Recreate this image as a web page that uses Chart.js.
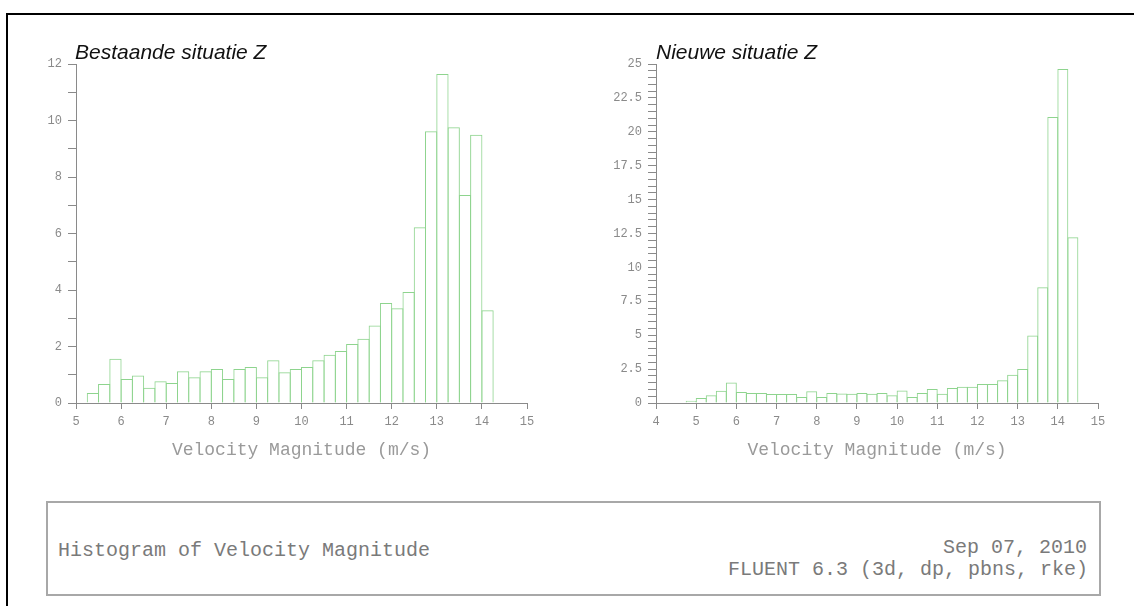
<!DOCTYPE html>
<html>
<head>
<meta charset="utf-8">
<script src="https://cdn.jsdelivr.net/npm/chart.js@4/dist/chart.umd.min.js"></script>
<style>
  html, body { margin:0; padding:0; background:#fff; }
  body { width:1134px; height:606px; position:relative; overflow:hidden; }
  #frame { position:absolute; left:6px; top:13px; width:1200px; height:700px; border-top:2px solid #000; border-left:2px solid #000; }
  .ctitle { position:absolute; font-family:"Liberation Sans", Arial, sans-serif; font-style:italic; font-size:21px; line-height:21px; color:#111; white-space:nowrap; }
  .cwrap { position:absolute; top:0; width:567px; height:480px; }
  #infobox { position:absolute; left:46px; top:501px; width:1055px; height:95px; box-sizing:border-box; border:2px solid #a8a8a8; }
  .mono { position:absolute; font-family:"Liberation Mono", "DejaVu Sans Mono", monospace; font-size:20px; line-height:20px; color:#7a7a7a; white-space:nowrap; }
</style>
</head>
<body>
<div id="frame"></div>
<div class="cwrap" style="left:0"><canvas id="c1" width="567" height="480"></canvas></div>
<div class="cwrap" style="left:567px"><canvas id="c2" width="567" height="480"></canvas></div>
<div class="ctitle" style="left:75px; top:41px;">Bestaande situatie Z</div>
<div class="ctitle" style="left:656px; top:41px;">Nieuwe situatie Z</div>
<div id="infobox"></div>
<div class="mono" style="left:58px; top:541px;">Histogram of Velocity Magnitude</div>
<div class="mono" style="right:47px; top:538px;">Sep 07, 2010</div>
<div class="mono" style="right:46px; top:560px;">FLUENT 6.3 (3d, dp, pbns, rke)</div>
<script>
// ---- data ----
const binWidth = 0.25;
const leftBinStarts = [5.25,5.5,5.75,6.0,6.25,6.5,6.75,7.0,7.25,7.5,7.75,8.0,8.25,8.5,8.75,9.0,9.25,9.5,9.75,10.0,10.25,10.5,10.75,11.0,11.25,11.5,11.75,12.0,12.25,12.5,12.75,13.0,13.25,13.5,13.75,14.0];
const leftValues = [0.35,0.67,1.57,0.85,0.97,0.54,0.77,0.71,1.12,0.91,1.12,1.20,0.85,1.20,1.27,0.91,1.51,1.09,1.20,1.27,1.51,1.71,1.84,2.09,2.27,2.74,3.54,3.35,3.93,6.22,9.62,11.65,9.76,7.36,9.50,3.28];
const rightBinStarts = [4.5,4.75,5.0,5.25,5.5,5.75,6.0,6.25,6.5,6.75,7.0,7.25,7.5,7.75,8.0,8.25,8.5,8.75,9.0,9.25,9.5,9.75,10.0,10.25,10.5,10.75,11.0,11.25,11.5,11.75,12.0,12.25,12.5,12.75,13.0,13.25,13.5,13.75,14.0,14.25];
const rightValues = [0.04,0.17,0.37,0.57,0.91,1.52,0.81,0.74,0.74,0.66,0.66,0.66,0.44,0.86,0.44,0.74,0.70,0.69,0.74,0.69,0.74,0.57,0.93,0.44,0.74,1.03,0.69,1.11,1.20,1.20,1.40,1.40,1.67,2.09,2.51,4.97,8.53,21.09,24.63,12.22];
const leftXTicks = {min:5, max:15, step:1};
const rightXTicks = {min:4, max:15, step:1};
const leftYTicks = {min:0, max:12, step:1, labelEvery:2};
const rightYTicks = {min:0, max:25, step:0.5, labelEvery:2.5};
const chartTitles = ["Bestaande situatie Z", "Nieuwe situatie Z"];
const xAxisTitle = "Velocity Magnitude (m/s)";

// ---- styling ----
const barColor = '#8ed48e';
const axisColor = '#8a8a8a';
const tickFont = {family:'"Liberation Mono", "DejaVu Sans Mono", monospace', size:12};
const tickColor = '#8a8a8a';

function makeChart(id, starts, values, xT, yT, yAxisWidth, padRight) {
  const pts = starts.map((s, i) => ({x: s + binWidth / 2, y: values[i]}));
  return new Chart(document.getElementById(id), {
    type: 'bar',
    data: { datasets: [{
      data: pts,
      backgroundColor: 'rgba(0,0,0,0)',
      borderColor: barColor,
      borderWidth: 1,
      borderSkipped: 'start',
      barPercentage: 1.09,
      categoryPercentage: 1,
      inflateAmount: 0
    }]},
    options: {
      responsive: false,
      animation: false,
      devicePixelRatio: 1,
      layout: { padding: {left:0, right:padRight, top:64, bottom:0} },
      plugins: { legend:{display:false}, tooltip:{enabled:false}, title:{display:false} },
      scales: {
        x: {
          type: 'linear', min: xT.min, max: xT.max, offset: false,
          grid: { offset:false, drawOnChartArea:false, drawTicks:true, tickLength:6, color:axisColor },
          border: { display:true, color:axisColor, width:1 },
          ticks: { stepSize: xT.step, autoSkip:false, maxRotation:0, padding:6, color:tickColor, font:tickFont,
                   callback: v => String(v) },
          title: { display:true, text:xAxisTitle, color:'#9a9a9a',
                   font:{family:'"Liberation Mono", "DejaVu Sans Mono", monospace', size:18},
                   padding:{top:0, bottom:19} },
          afterFit: s => { s.height = 77; }
        },
        y: {
          min: yT.min, max: yT.max,
          grid: { drawOnChartArea:false, drawTicks:true, tickLength:8, color:axisColor },
          border: { display:true, color:axisColor, width:1 },
          ticks: { stepSize: yT.step, autoSkip:false, maxTicksLimit:200, padding:6, color:tickColor, font:tickFont,
                   callback: v => { const r = v / yT.labelEvery; return Math.abs(r - Math.round(r)) < 1e-6 ? String(v) : ''; } },
          afterFit: s => { s.width = yAxisWidth; }
        }
      }
    }
  });
}

makeChart('c1', leftBinStarts, leftValues, leftXTicks, leftYTicks, 76, 40);
makeChart('c2', rightBinStarts, rightValues, rightXTicks, rightYTicks, 89, 36);
</script>
</body>
</html>
